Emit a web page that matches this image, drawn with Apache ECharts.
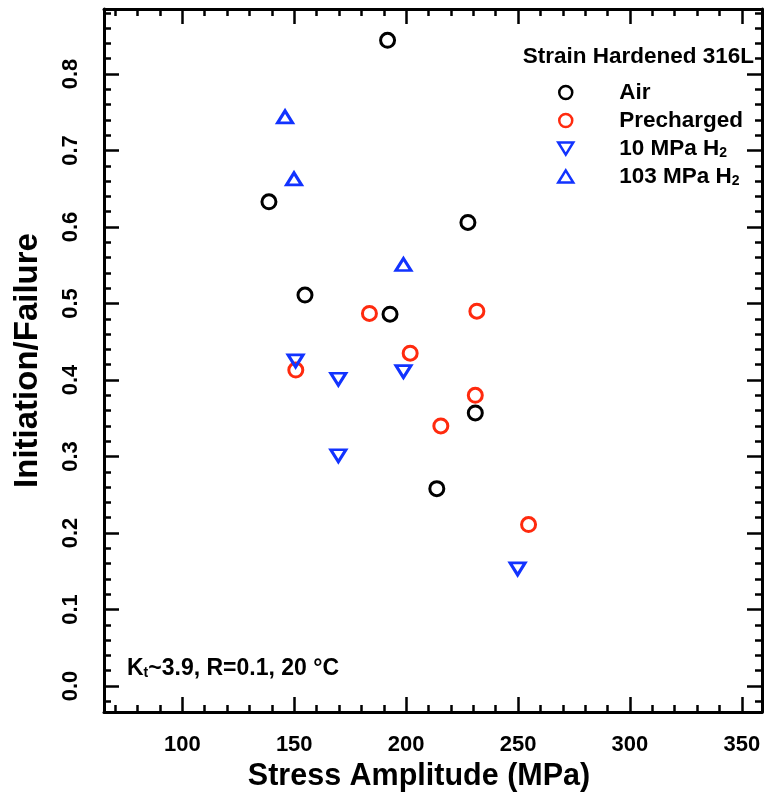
<!DOCTYPE html>
<html>
<head>
<meta charset="utf-8">
<script src="https://cdn.jsdelivr.net/npm/echarts@6/dist/echarts.min.js"></script>
<style>
  html, body { margin: 0; padding: 0; background: #fff; }
  #chart { width: 764px; height: 804px; }
</style>
</head>
<body>
<div id="chart"></div>
<script>
// data
const airX = [191.7, 138.7, 227.6, 154.8, 192.8, 230.9, 213.7];
const airY = [0.844, 0.633, 0.606, 0.511, 0.486, 0.357, 0.258];

const preX = [183.6, 231.6, 201.8, 150.7, 230.9, 215.5, 254.7];
const preY = [0.487, 0.490, 0.435, 0.413, 0.380, 0.340, 0.211];

const h10X = [150.6, 169.7, 198.8, 169.7, 249.8];
const h10Y = [0.425, 0.401, 0.411, 0.301, 0.153];

const h103X = [145.9, 149.9, 198.8];
const h103Y = [0.744, 0.663, 0.551];

const seriesNames = ['Air', 'Precharged', '10 MPa H2', '103 MPa H2'];

// axis ranges and ticks
const xMin = 65, xMax = 359;
const yMin = -0.034, yMax = 0.885;
const xMajor = [100, 150, 200, 250, 300, 350];
const yMajor = [0, 0.1, 0.2, 0.3, 0.4, 0.5, 0.6, 0.7, 0.8];

function steps(from, to, step) {
  const out = [];
  for (let v = from; v <= to + 1e-9; v += step) out.push(+v.toFixed(3));
  return out;
}
const xMinor = steps(70, 350, 10);
const yMinor = steps(-0.02, 0.88, 0.02);

const FONT = '"Liberation Sans", Arial, sans-serif';
const BLACK = '#000000';
const RED = '#ff2a0e';
const BLUE = '#1233ff';

const DOWN_TRI = 'path://M0,0L16,0L8,13Z';
const UP_TRI = 'path://M8,0L16,13L0,13Z';

const pts = (xs, ys) => xs.map((x, i) => [x, ys[i]]);

function xAx(position, ticks, len, withLine, extra) {
  return Object.assign({
    type: 'value', min: xMin, max: xMax, position: position,
    axisLine: { show: withLine, onZero: false, lineStyle: { color: BLACK, width: 3 } },
    axisTick: { inside: true, length: len, customValues: ticks, lineStyle: { color: BLACK, width: 2.5 } },
    axisLabel: { show: false },
    splitLine: { show: false }
  }, extra || {});
}
function yAx(position, ticks, len, withLine, extra) {
  return Object.assign({
    type: 'value', min: yMin, max: yMax, position: position,
    axisLine: { show: withLine, onZero: false, lineStyle: { color: BLACK, width: 3 } },
    axisTick: { inside: true, length: len, customValues: ticks, lineStyle: { color: BLACK, width: 2.5 } },
    axisLabel: { show: false },
    splitLine: { show: false }
  }, extra || {});
}

const subStyle = { fontFamily: FONT, fontSize: 14, fontWeight: 'bold', color: BLACK, padding: [9, 0, 0, 0] };

const chart = echarts.init(document.getElementById('chart'));

const option = {
  animation: false,
  backgroundColor: '#fff',
  grid: { left: 104, right: 2, top: 9, bottom: 92, containLabel: false },
  title: [
    {
      text: 'Strain Hardened 316L', right: 5, top: 40,
      textStyle: { fontFamily: FONT, fontSize: 22.5, fontWeight: 'bold', color: BLACK }
    },
    {
      text: 'K{sub|t}~3.9, R=0.1, 20 °C', left: 122, top: 652,
      textStyle: {
        fontFamily: FONT, fontSize: 23, fontWeight: 'bold', color: BLACK,
        rich: { sub: subStyle }
      }
    }
  ],
  legend: {
    orient: 'vertical', left: 552, top: 76,
    itemWidth: 15, itemHeight: 13, itemGap: 5,
    data: [
      { name: seriesNames[0], icon: 'circle' },
      { name: seriesNames[1], icon: 'circle' },
      { name: seriesNames[2], icon: DOWN_TRI },
      { name: seriesNames[3], icon: UP_TRI }
    ],
    formatter: name => '{g|}' + name.replace('H2', 'H{sub|2}'),
    textStyle: {
      fontFamily: FONT, fontSize: 22.5, fontWeight: 'bold', color: BLACK, lineHeight: 22,
      rich: { sub: subStyle, g: { width: 41 } }
    },
    itemStyle: { borderWidth: 2.5 }
  },
  xAxis: [
    xAx('bottom', xMajor, 15, true, {
      axisLabel: { show: true, customValues: xMajor, margin: 22, fontFamily: FONT, fontSize: 22, fontWeight: 'bold', color: BLACK },
      name: 'Stress Amplitude (MPa)', nameLocation: 'middle', nameGap: 43,
      nameTextStyle: { fontFamily: FONT, fontSize: 30.5, fontWeight: 'bold', color: BLACK, padding: [0, 28, 0, 0] }
    }),
    xAx('bottom', xMinor, 7, false),
    xAx('top', xMajor, 15, true),
    xAx('top', xMinor, 7, false)
  ],
  yAxis: [
    yAx('left', yMajor, 15, true, {
      axisLabel: {
        show: true, customValues: yMajor, rotate: 90, margin: 22,
        formatter: v => v.toFixed(1),
        fontFamily: FONT, fontSize: 22, fontWeight: 'bold', color: BLACK
      },
      name: 'Initiation/Failure', nameLocation: 'middle', nameGap: 60, nameRotate: 90,
      nameTextStyle: { fontFamily: FONT, fontSize: 33, fontWeight: 'bold', color: BLACK }
    }),
    yAx('left', yMinor, 7, false),
    yAx('right', yMajor, 15, true),
    yAx('right', yMinor, 7, false)
  ],
  series: [
    {
      name: seriesNames[0], type: 'scatter', data: pts(airX, airY),
      symbol: 'circle', symbolSize: 14,
      itemStyle: { color: 'rgba(255,255,255,0)', borderColor: BLACK, borderWidth: 3, opacity: 1 }
    },
    {
      name: seriesNames[1], type: 'scatter', data: pts(preX, preY),
      symbol: 'circle', symbolSize: 14,
      itemStyle: { color: 'rgba(255,255,255,0)', borderColor: RED, borderWidth: 3, opacity: 1 }
    },
    {
      name: seriesNames[2], type: 'scatter', data: pts(h10X, h10Y),
      symbol: 'triangle', symbolRotate: 180, symbolSize: [15, 12],
      itemStyle: { color: 'rgba(255,255,255,0)', borderColor: BLUE, borderWidth: 3, opacity: 1 }
    },
    {
      name: seriesNames[3], type: 'scatter', data: pts(h103X, h103Y),
      symbol: 'triangle', symbolSize: [15, 12],
      itemStyle: { color: 'rgba(255,255,255,0)', borderColor: BLUE, borderWidth: 3, opacity: 1 }
    }
  ]
};

chart.setOption(option);
</script>
</body>
</html>
